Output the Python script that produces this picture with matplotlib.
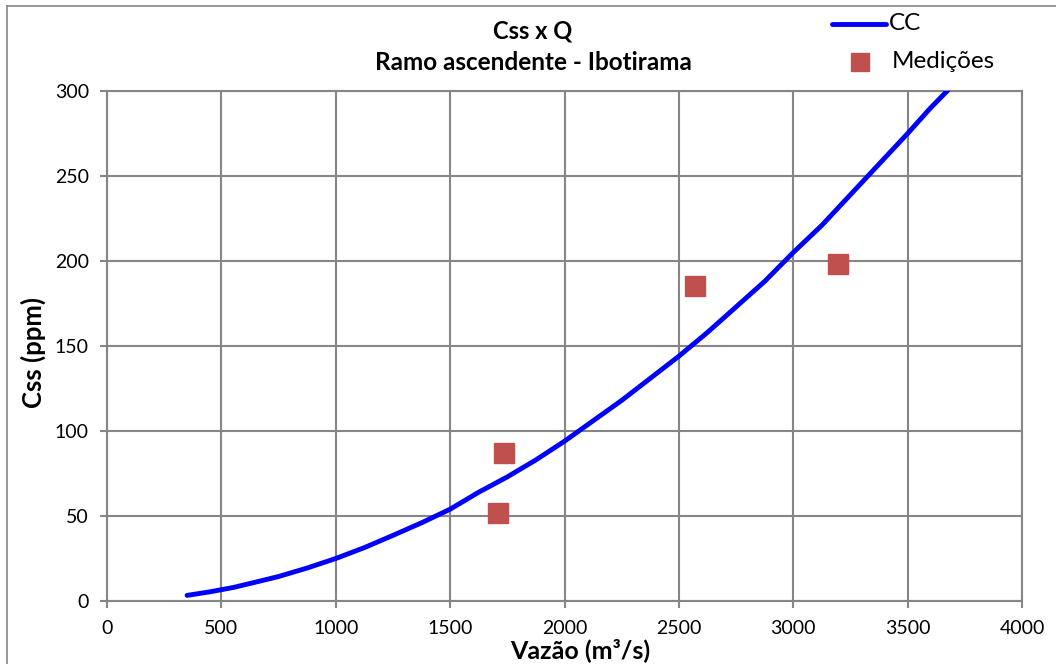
import numpy as np
import matplotlib.pyplot as plt
from matplotlib.lines import Line2D

plt.rcParams['font.family'] = ['Lato', 'DejaVu Sans']

# curva-chave (CC), pontos
q_cc = [350, 450, 550, 650, 750, 875, 1000, 1125, 1250, 1375, 1500, 1625, 1750, 1875, 2000,
        2125, 2250, 2375, 2500, 2625, 2750, 2875, 3000, 3125, 3250, 3375, 3500, 3600, 3680]
c_cc = [3.3, 5.4, 7.9, 11.1, 14.4, 19.4, 25, 31.4, 38.6, 46, 54, 64, 73, 83, 94,
        106, 118, 131, 144, 158, 173, 188, 205, 221, 239, 257, 275, 290, 301]

# medicoes
q_med = [1710, 1735, 2570, 3195]
c_med = [52, 87, 185, 198]

grey = '#868686'

fig = plt.figure(figsize=(10.56, 6.64), dpi=100)
ax = fig.add_axes([107/1056, 1 - 601/664, (1022 - 107)/1056, (601 - 91)/664])

ax.plot(q_cc, c_cc, color='#0000FF', lw=3.5, solid_capstyle='round', solid_joinstyle='round', zorder=3)
ax.plot(q_med, c_med, ls='none', marker='s', ms=14, color='#C0504D', mec='#C0504D', zorder=4)

ax.set_xlim(0, 4000)
ax.set_ylim(0, 300)
ax.set_xticks(np.arange(0, 4001, 500))
ax.set_yticks(np.arange(0, 301, 50))
ax.grid(True, color=grey, lw=1.5)
ax.set_axisbelow(True)
for s in ax.spines.values():
    s.set_color(grey)
    s.set_linewidth(1.5)
ax.tick_params(colors=grey, labelcolor='black', labelsize=14, length=5, width=1.5)
ax.tick_params(axis='x', pad=9)
ax.tick_params(axis='y', pad=8)

ax.set_xlabel('Vazão (m³/s)', fontsize=18, fontweight='bold')
ax.xaxis.set_label_coords((580 - 107) / 915, -(650 - 601) / 510)
ax.xaxis.label.set_va('center')
ax.set_ylabel('Css (ppm)', fontsize=18.5, fontweight='bold')
ax.yaxis.set_label_coords((33 - 107) / 915, (601 - 352) / 510)
ax.yaxis.label.set_va('center')

fig.text(533/1056, 1 - 31/664, 'Css x Q', ha='center', va='center', fontsize=17, fontweight='bold')
fig.text(533/1056, 1 - 62/664, 'Ramo ascendente - Ibotirama', ha='center', va='center',
         fontsize=17.5, fontweight='bold')

# legenda
fig.add_artist(Line2D([832/1056, 886/1056], [1 - 24/664, 1 - 24/664], color='#0000FF', lw=3.5,
                      solid_capstyle='round'))
fig.text(889/1056, 1 - 24/664, 'CC', va='center', fontsize=17.5)
fig.add_artist(Line2D([860/1056], [1 - 62/664], marker='s', ms=13, color='#C0504D', ls='none'))
fig.text(892/1056, 1 - 62/664, 'Medições', va='center', fontsize=17.5)

# moldura do grafico
fig.add_artist(Line2D([7/1056, 7/1056], [0, 1 - 6/664], color=grey, lw=1.2))
fig.add_artist(Line2D([7/1056, 1], [1 - 6/664, 1 - 6/664], color=grey, lw=1.2))

fig.savefig('out.png', dpi=100)
